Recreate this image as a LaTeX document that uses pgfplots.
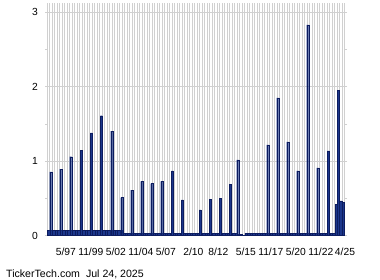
\documentclass[border=0pt]{standalone}
\usepackage{pgfplots}
\pgfplotsset{compat=1.18}
\usepackage{pgfplotstable}
\usepackage{fontspec}
\setmainfont{Liberation Sans}
\definecolor{barfill}{RGB}{28,55,140}
\definecolor{baredge}{RGB}{12,28,95}
\definecolor{gridc}{RGB}{208,208,208}

\pgfplotstableread[row sep=\\]{
x y\\
1995.6 0.068\\ 1995.85 0.068\\
1996.1 0.068\\ 1996.35 0.068\\ 1996.6 0.068\\ 1996.85 0.068\\
1997.1 0.068\\ 1997.35 0.068\\ 1997.6 0.068\\ 1997.85 0.068\\
1998.1 0.068\\ 1998.35 0.068\\ 1998.6 0.068\\ 1998.85 0.068\\
1999.1 0.068\\ 1999.35 0.068\\ 1999.6 0.068\\ 1999.85 0.068\\
2000.1 0.068\\ 2000.35 0.068\\ 2000.6 0.068\\ 2000.85 0.068\\
2001.1 0.068\\ 2001.35 0.068\\ 2001.6 0.068\\ 2001.85 0.068\\
2002.1 0.068\\ 2002.35 0.068\\ 2002.6 0.068\\ 2002.85 0.068\\
2003.1 0.035\\ 2003.35 0.035\\ 2003.6 0.035\\ 2003.85 0.035\\
2004.1 0.035\\ 2004.35 0.035\\ 2004.6 0.035\\ 2004.85 0.035\\
2005.1 0.035\\ 2005.35 0.035\\ 2005.6 0.035\\ 2005.85 0.035\\
2006.1 0.035\\ 2006.35 0.035\\ 2006.6 0.035\\ 2006.85 0.035\\
2007.1 0.035\\ 2007.35 0.035\\ 2007.6 0.035\\ 2007.85 0.035\\
2008.1 0.035\\ 2008.35 0.035\\ 2008.6 0.035\\ 2008.85 0.035\\
2009.1 0.035\\ 2009.35 0.035\\ 2009.6 0.035\\ 2009.85 0.035\\
2010.1 0.035\\ 2010.35 0.035\\ 2010.6 0.035\\ 2010.85 0.035\\
2011.1 0.035\\ 2011.35 0.035\\ 2011.6 0.035\\ 2011.85 0.035\\
2012.1 0.035\\ 2012.35 0.035\\ 2012.6 0.035\\ 2012.85 0.035\\
2013.1 0.035\\ 2013.35 0.035\\ 2013.6 0.035\\ 2013.85 0.035\\
2014.1 0.035\\ 2014.35 0.035\\ 2014.6 0.015\\ 2014.85 0.015\\
2015.1 0.008\\ 2015.35 0.035\\ 2015.6 0.035\\ 2015.85 0.035\\
2016.1 0.035\\ 2016.35 0.035\\ 2016.6 0.035\\ 2016.85 0.035\\
2017.1 0.035\\ 2017.35 0.035\\ 2017.6 0.035\\ 2017.85 0.035\\
2018.1 0.035\\ 2018.35 0.035\\ 2018.6 0.035\\ 2018.85 0.035\\
2019.1 0.035\\ 2019.35 0.035\\ 2019.6 0.035\\ 2019.85 0.035\\
2020.1 0.035\\ 2020.35 0.035\\ 2020.6 0.035\\ 2020.85 0.035\\
2021.1 0.035\\ 2021.35 0.035\\ 2021.6 0.035\\ 2021.85 0.035\\
2022.1 0.035\\ 2022.35 0.035\\ 2022.6 0.035\\ 2022.85 0.035\\
2023.1 0.035\\ 2023.35 0.035\\ 2023.6 0.035\\ 2023.85 0.035\\
2024.1 0.035\\
}\regulardiv

\pgfplotstableread[row sep=\\]{
x y\\
1995.82 0.855\\ 1996.82 0.895\\ 1997.82 1.06\\ 1998.88 1.15\\
1999.88 1.38\\ 2000.88 1.61\\ 2001.92 1.405\\ 2002.92 0.51\\
2003.92 0.61\\ 2004.92 0.73\\ 2005.92 0.70\\ 2006.92 0.73\\
2007.98 0.87\\ 2008.98 0.48\\ 2010.75 0.345\\ 2011.75 0.49\\
2012.75 0.505\\ 2013.75 0.685\\ 2014.52 1.016\\ 2017.52 1.22\\
2018.52 1.85\\ 2019.52 1.26\\ 2020.52 0.87\\ 2021.52 2.83\\
2022.52 0.91\\ 2023.58 1.14\\ 2024.35 0.425\\ 2024.55 1.955\\
}\extradiv

\pgfplotstableread[row sep=\\]{
x y\\
2024.82 0.466\\ 2025.08 0.45\\
}\recentdiv

\begin{document}
\begin{tikzpicture}
\useasboundingbox (0,0) rectangle (380bp,280bp);
\begin{axis}[
  at={(47bp,44.3bp)}, anchor=south west,
  scale only axis, width=298bp, height=232.7bp,
  xmin=1995.45, xmax=2025.25, ymin=0, ymax=3.123,
  axis line style={draw=none},
  xtick={1997.33,1999.83,2002.33,2004.83,2007.33,2010.08,2012.58,2015.33,2017.83,2020.33,2022.83,2025.25},
  xticklabels={5/97,11/99,5/02,11/04,5/07,2/10,8/12,5/15,11/17,5/20,11/22,4/25},
  minor xtick={1995.45,1995.70,...,2025.25},
  ytick={0,1,2,3},
  minor ytick={0.5,1.5,2.5},
  major x tick style={draw=none},
  minor x tick style={draw=none},
  major y tick style={draw=gridc, line width=0.8bp},
  minor y tick style={draw=gridc, line width=0.8bp},
  tick align=outside,
  major tick length=2bp, minor tick length=2bp,
  xmajorgrids=false, xminorgrids=true, ymajorgrids=true,
  minor x grid style={draw=gridc, line width=1bp},
  major y grid style={draw=gridc, line width=1bp},
  /pgf/number format/assume math mode=true,
  tick label style={font=\fontsize{10.3bp}{12bp}\selectfont, text=black},
  xticklabel style={anchor=base, inner sep=0pt, yshift=-18.3bp},
  yticklabel style={anchor=east, inner sep=0pt, xshift=-7bp},
  clip=false,
]
\addplot[ybar, bar width=0.25, bar shift=0pt, fill=barfill, draw=baredge, line width=0.4bp] table {\regulardiv};
\addplot[ybar, bar width=0.2, bar shift=0pt, fill=barfill, draw=baredge, line width=0.4bp] table {\extradiv};
\addplot[ybar, bar width=0.25, bar shift=0pt, fill=barfill, draw=baredge, line width=0.4bp] table {\recentdiv};
\end{axis}
\node[anchor=base west, inner sep=0pt, font=\fontsize{10.6bp}{12bp}\selectfont] at (6bp,2.5bp) {TickerTech.com\hspace{6bp}Jul 24, 2025};
\end{tikzpicture}
\end{document}
